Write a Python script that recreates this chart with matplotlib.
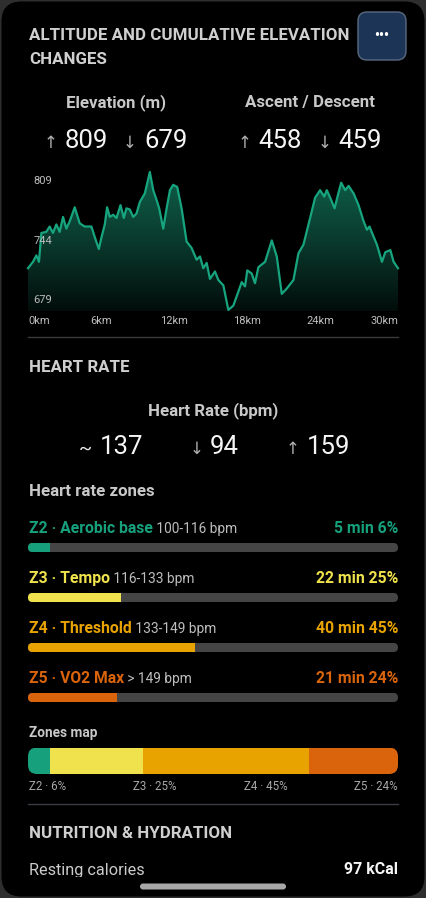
import matplotlib
matplotlib.use('Agg')
import matplotlib.pyplot as plt
import numpy as np
from matplotlib.patches import FancyBboxPatch
from matplotlib.colors import LinearSegmentedColormap

W, H = 426, 898

# elevation profile
km = [0, 0.41, 0.69, 0.9, 1.1, 1.5, 1.78, 2.05, 2.33, 2.6, 2.88, 3.15, 3.43, 3.84,
      4.25, 4.66, 5.21, 5.49, 5.82, 6.04, 6.31, 6.5, 6.72, 7.0, 7.27, 7.6, 7.87,
      8.09, 8.36, 8.64, 8.91, 9.19, 9.6, 10.01, 10.29, 10.56, 10.78, 11.11, 11.39,
      11.66, 11.93, 12.26, 12.62, 13.03, 13.44, 13.85, 14.13, 14.4, 14.68, 14.95,
      15.36, 15.64, 16.05, 16.46, 16.87, 17.28, 17.56, 17.83, 18.02, 18.38, 18.65,
      18.93, 19.48, 20.03, 20.44, 20.85, 21.26, 21.81, 22.22, 22.63, 23.18, 23.59,
      24.0, 24.34, 24.55, 24.83, 25.19, 25.43, 25.73, 26.06, 26.34, 26.75, 27.16,
      27.57, 27.85, 28.06, 28.34, 28.67, 29.08, 29.36, 29.77, 30.04, 30.4]
elev = [719, 725, 731, 725, 752, 753, 758, 752, 760, 753, 767, 756, 763, 776,
        761, 758, 758, 748, 737, 748, 760, 776, 767, 769, 766, 778, 766,
        775, 774, 767, 770, 781, 789, 809, 792, 783, 775, 756, 775,
        792, 797, 795, 775, 744, 738, 727, 730, 719, 724, 709,
        716, 708, 703, 680, 684, 697, 706, 702, 717, 714, 705,
        720, 725, 745, 730, 695, 700, 708, 733, 741, 766, 785,
        792, 786, 792, 785, 775, 786, 799, 792, 796, 789, 778,
        763, 755, 758, 750, 741, 725, 734, 736, 725, 719]
elev_ticks = [809, 744, 679]
km_ticks = [0, 6, 12, 18, 24, 30]

elevation_mm = [809, 679]
ascent_descent = [458, 459]
hr_avg_min_max = [137, 94, 159]

zone_names = ['Z2 · Aerobic base', 'Z3 · Tempo', 'Z4 · Threshold', 'Z5 · VO2 Max']
zone_ranges = ['100-116 bpm', '116-133 bpm', '133-149 bpm', '> 149 bpm']
zone_short = ['Z2', 'Z3', 'Z4', 'Z5']
zone_minutes = [5, 22, 40, 21]
zone_pct = [6, 25, 45, 24]
zone_colors = ['#16a07c', '#efe24c', '#e8a300', '#d9640c']

resting_kcal = 97

plt.rcParams['font.family'] = ['Roboto', 'DejaVu Sans']

fig = plt.figure(figsize=(W / 100, H / 100), dpi=100, facecolor='#2e2e2e')
ov = fig.add_axes([0, 0, 1, 1])
ov.set_xlim(0, W)
ov.set_ylim(H, 0)
ov.axis('off')
ov.add_patch(FancyBboxPatch((1.5, 1.5), W - 3, H - 3,
                            boxstyle='round,pad=0,rounding_size=20',
                            fc='black', ec='none'))


def box(x0, y0, x1, y1):
    return [x0 / W, 1 - y1 / H, (x1 - x0) / W, (y1 - y0) / H]


def txt(x, y, s, size, color='#c8c8c8', weight='normal', ha='left', va='center', **kw):
    return ov.text(x, y, s, fontsize=size, color=color, fontweight=weight,
                   ha=ha, va=va, **kw)


def rounded(x, y, w, h, r, **kw):
    return FancyBboxPatch((x, y), w, h, boxstyle=f'round,pad=0,rounding_size={r}',
                          transform=ov.transData, **kw)


# header
txt(29, 35, 'ALTITUDE AND CUMULATIVE ELEVATION', 12.2, '#cfcfcf', 'bold')
txt(29, 59, 'CHANGES', 12.2, '#cfcfcf', 'bold')
ov.add_patch(rounded(358, 12, 48, 48, 9, fc='#1c3557', ec='#5a6a80', lw=1))
txt(382, 35.5, '•••', 10, 'white', 'bold', ha='center')

txt(116, 103, 'Elevation (m)', 12.2, '#c8c8c8', 'bold', ha='center')
txt(310, 103, 'Ascent / Descent', 12.2, '#c8c8c8', 'bold', ha='center')

big = 18.5
arr = 12
base = 147.5
for ax_x, nx, arrow, val in [(51, 65, '↑', elevation_mm[0]), (130, 144, '↓', elevation_mm[1]),
                             (245, 258, '↑', ascent_descent[0]), (325, 338, '↓', ascent_descent[1])]:
    txt(ax_x, base, arrow, arr, '#b0b0b0', ha='center', va='baseline')
    txt(nx, base, str(val), big, '#f5f5f5', va='baseline')

# elevation chart
ax = fig.add_axes(box(28, 172, 398, 311))
ax.set_facecolor('none')
fill = ax.fill_between(km, elev, 679, color='none', lw=0)
cmap = LinearSegmentedColormap.from_list('g', ['#020d0a', '#0a3a2d', '#0e6049'])
grad = np.linspace(1, 0, 256).reshape(-1, 1)
im = ax.imshow(grad, extent=[0, km[-1], 679, 809], aspect='auto', cmap=cmap,
               origin='upper', zorder=1)
im.set_clip_path(fill.get_paths()[0], ax.transData)
ax.plot(km, elev, color='#17a57f', lw=1.6, clip_on=False, zorder=2,
        solid_joinstyle='round')
ax.set_xlim(0, km[-1])
ax.set_ylim(679, 809)
ax.axis('off')

for v, va, dy in zip(elev_ticks, ['top', 'center', 'bottom'], [-3, 0, 4]):
    ax.annotate(str(v), xy=(0, v), xytext=(4, dy), textcoords='offset points',
                fontsize=8, color='#bdbdbd', ha='left', va=va, zorder=3)
for i, k in enumerate(km_ticks):
    ha = 'left' if i == 0 else ('right' if i == len(km_ticks) - 1 else 'center')
    xx = k if i < len(km_ticks) - 1 else km[-1]
    ax.text(xx, -0.072, f'{k}km', transform=ax.get_xaxis_transform(),
            fontsize=8, color='#bdbdbd', ha=ha, va='center')

ov.plot([28, 398], [337, 337], color='#3a3a3a', lw=1)

# heart rate
txt(29, 367, 'HEART RATE', 12.2, '#cfcfcf', 'bold')
txt(213, 411, 'Heart Rate (bpm)', 12.2, '#c8c8c8', 'bold', ha='center')
hb = 453.5
for ax_x, nx, sym, val in [(85, 100, '~', hr_avg_min_max[0]), (197, 210, '↓', hr_avg_min_max[1]),
                           (293, 307, '↑', hr_avg_min_max[2])]:
    txt(ax_x, hb, sym, arr if sym != '~' else 14, '#b0b0b0' if sym != '~' else '#e8e8e8',
        ha='center', va='baseline')
    txt(nx, hb, str(val), big, '#f5f5f5', va='baseline')

txt(29, 491, 'Heart rate zones', 12.2, '#c8c8c8', 'bold')

for i in range(len(zone_names)):
    yl = 527 + 50 * i
    yb = 547.5 + 50 * i
    c = zone_colors[i]
    t1 = txt(29, yl + 6, zone_names[i], 11.3, c, 'bold', va='baseline')
    ov.annotate(' ' + zone_ranges[i], xy=(1, 0), xycoords=t1, xytext=(0, 0),
                textcoords='offset points', fontsize=9.9, color='#bdbdbd',
                ha='left', va='bottom')
    txt(398, yl + 6, f'{zone_minutes[i]} min {zone_pct[i]}%', 11.3, c, 'bold',
        ha='right', va='baseline')
    zax = fig.add_axes(box(28, yb - 4.5, 398, yb + 4.5))
    zax.set_xlim(0, 100)
    zax.set_ylim(0, 1)
    zax.axis('off')
    clip = rounded(28, yb - 4.5, 370, 9, 4.5)
    b1 = zax.barh(0.5, 100, height=1, color='#454545')
    b2 = zax.barh(0.5, zone_pct[i], height=1, color=c)
    for b in list(b1) + list(b2):
        b.set_clip_path(clip)

# zones map
txt(29, 733, 'Zones map', 9.8, '#c8c8c8', 'bold')
max_ = fig.add_axes(box(28, 747.5, 398, 774))
max_.set_xlim(0, 100)
max_.set_ylim(0, 1)
max_.axis('off')
clip = rounded(28, 747.5, 370, 26.5, 9)
left = np.cumsum([0] + zone_pct[:-1])
bars = max_.barh(0.5, zone_pct, left=left, height=1, color=zone_colors)
for b in bars:
    b.set_clip_path(clip)
for i, lx in enumerate([29, 133, 244, 398]):
    txt(lx, 787, f'{zone_short[i]} · {zone_pct[i]}%', 8.3, '#a8a8a8',
        ha='right' if i == 3 else 'left')

ov.plot([28, 398], [804, 804], color='#3a3c44', lw=1)

# nutrition
txt(29, 834, 'NUTRITION & HYDRATION', 12.2, '#cfcfcf', 'bold')
bot = fig.add_axes(box(0, 855, W, 877))
bot.set_xlim(0, W)
bot.set_ylim(877, 855)
bot.axis('off')
bot.text(29, 871, 'Resting calories', fontsize=11.7, color='#cccccc', ha='left',
         va='center', clip_on=True)
bot.text(398, 870, f'{resting_kcal} kCal', fontsize=11.5, color='#f5f5f5',
         fontweight='bold', ha='right', va='center', clip_on=True)

ov.add_patch(rounded(140, 883.5, 146, 6, 3, fc='#a8a8a8', ec='none'))

fig.savefig('out.png', dpi=100, facecolor=fig.get_facecolor())
